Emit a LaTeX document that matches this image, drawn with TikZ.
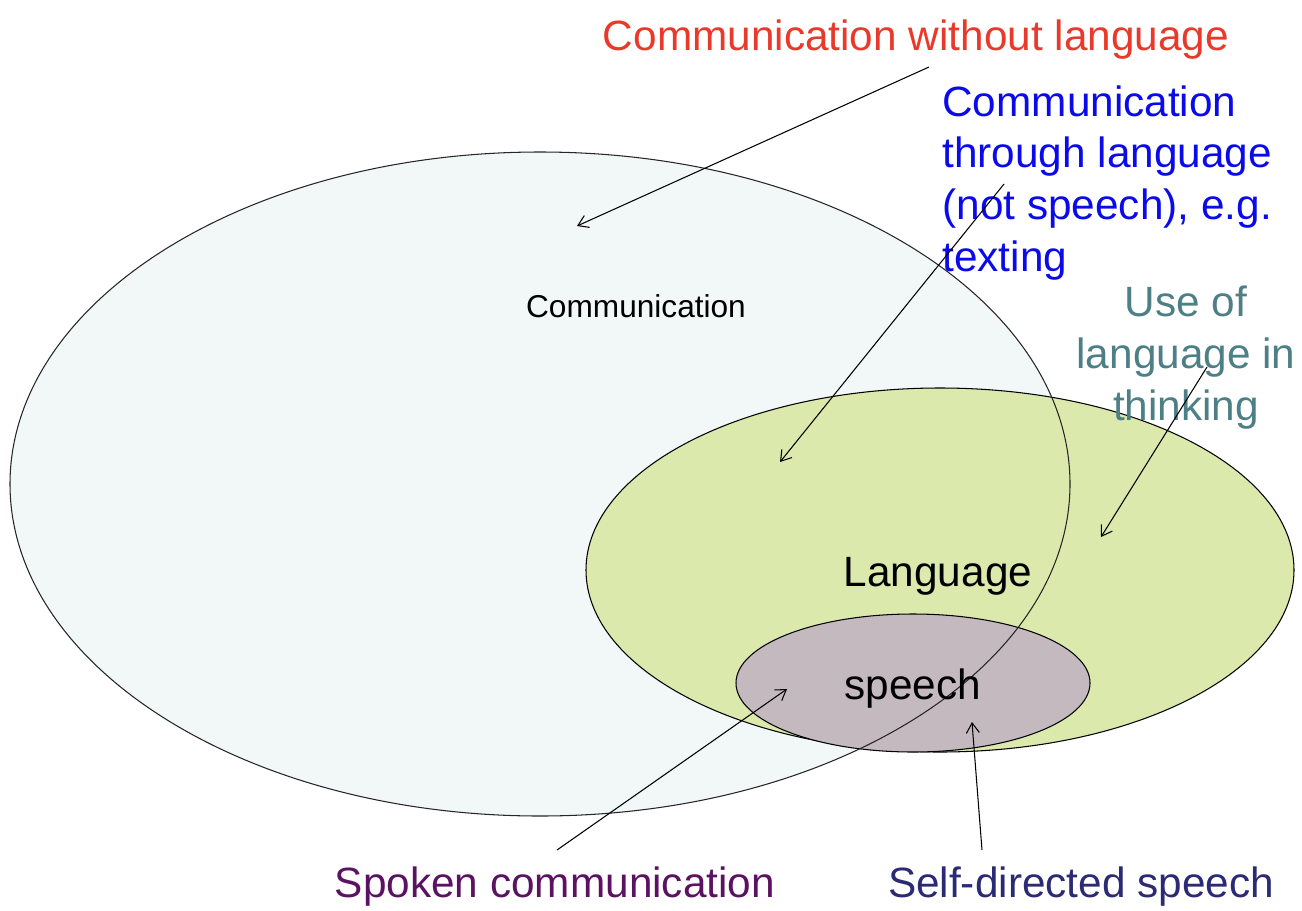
\documentclass[tikz,border=0pt]{standalone}
\usepackage{fontspec}
\setmainfont{Liberation Sans}
\usetikzlibrary{arrows.meta}
\definecolor{commfill}{HTML}{F2F7F7}
\definecolor{langfill}{HTML}{DCE9AC}
\definecolor{speechfill}{HTML}{C4B9BF}
\definecolor{nolangred}{HTML}{E8392A}
\definecolor{textblue}{HTML}{0A0AEB}
\definecolor{thinkteal}{HTML}{4D7F86}
\definecolor{spokenpurple}{HTML}{5C1262}
\definecolor{selfnavy}{HTML}{2C2A74}
\tikzset{
    big/.style={font=\fontsize{24.1}{29.5}\selectfont, inner sep=0pt},
    callout/.style={line width=0.6pt, -{Straight Barb[length=2mm,width=2.6mm]}}
}

\begin{document}
\begin{tikzpicture}[x=0.02cm,y=-0.02cm]
    \useasboundingbox (0,0) rectangle (1302,910);
    \clip (0,0) rectangle (1302,910);
    \begin{scope}[line width=0.6pt]
    \fill [commfill] (540,484) ellipse [x radius=530, y radius=332];
    \filldraw [fill=langfill] (940,570) ellipse [x radius=354, y radius=182];
    \filldraw [fill=speechfill] (913,683) ellipse [x radius=177, y radius=69];
    \draw [black!85] (540,484) ellipse [x radius=530, y radius=332];
    \end{scope}
    \node [font=\fontsize{18}{22}\selectfont, inner sep=0pt, anchor=base] (comm) at (636,317) {Communication};
    \node [big, anchor=base] (lang) at (938,586) {Language};
    \node [big, anchor=base] (speech) at (913,699) {speech};
    \node [big, nolangred, anchor=base] (nolang) at (916,50) {Communication without language};
    \node [big, textblue, anchor=north west, align=left] (textlang) at (942,85) {Communication\\through language\\(not speech), e.g.\\texting};
    \node [big, thinkteal, anchor=north, align=center] (think) at (1186,286) {Use of\\language in\\thinking};
    \node [big, spokenpurple, anchor=base] (spoken) at (555,897) {Spoken communication};
    \node [big, selfnavy, anchor=base] (selfdir) at (1081,897) {Self-directed speech};
    \coordinate (nolang-from) at (929,67);   \coordinate (nolang-to) at (577,226);
    \coordinate (textlang-from) at (1004,184); \coordinate (textlang-to) at (780,462);
    \coordinate (think-from) at (1207,367);  \coordinate (think-to) at (1101,537);
    \coordinate (spoken-from) at (557,850);  \coordinate (spoken-to) at (787,689);
    \coordinate (selfdir-from) at (982,850); \coordinate (selfdir-to) at (972,722);
    \foreach \n in {nolang,textlang,think,spoken,selfdir}{
        \draw [callout] (\n-from) -- (\n-to);
    }
\end{tikzpicture}
\end{document}
